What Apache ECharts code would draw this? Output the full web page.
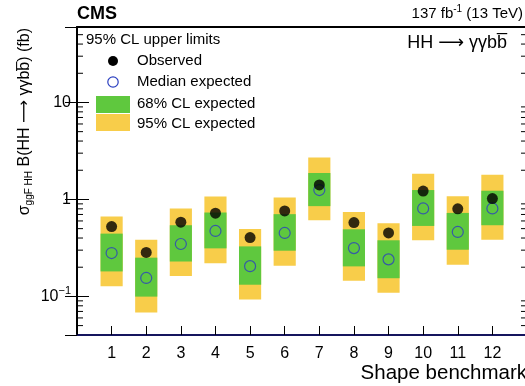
<!DOCTYPE html>
<html>
<head>
<meta charset="utf-8">
<script src="https://cdn.jsdelivr.net/npm/echarts@6/dist/echarts.min.js"></script>
<style>
html,body{margin:0;padding:0;background:#fff;}
#chart{width:525px;height:386px;}
</style>
</head>
<body>
<div id="chart"></div>
<script>
var benchmarks = [1,2,3,4,5,6,7,8,9,10,11,12];
var observed   = [0.525,0.284,0.582,0.721,0.404,0.762,1.41,0.578,0.451,1.22,0.80,1.02];
var expected   = [0.280,0.155,0.347,0.473,0.205,0.451,1.25,0.315,0.241,0.807,0.462,0.807];
var band68Low  = [0.181,0.0995,0.229,0.313,0.132,0.296,0.853,0.204,0.154,0.533,0.303,0.542];
var band68High = [0.444,0.251,0.542,0.733,0.328,0.705,1.874,0.492,0.379,1.25,0.726,1.23];
var band95Low  = [0.127,0.0684,0.162,0.220,0.0927,0.207,0.610,0.145,0.109,0.379,0.212,0.385];
var band95High = [0.667,0.385,0.807,1.074,0.496,1.049,2.70,0.744,0.568,1.84,1.08,1.80];
var minorTickValues = [0.05,0.06,0.07,0.08,0.09,0.2,0.3,0.4,0.5,0.6,0.7,0.8,0.9,2,3,4,5,6,7,8,9,20,30,40,50];
var xTickLabels = ['1','2','3','4','5','6','7','8','9','10','11','12'];

var FONT = "'Liberation Sans', Arial, Helvetica, 'DejaVu Sans', sans-serif";
var YELLOW = '#f8cd4a', GREEN = '#5fc83e', BLUE = '#2b3fc0';
var BOX_W = 0.64;

function bandData(lo, hi) {
  return benchmarks.map(function (b, i) { return [b, lo[i], hi[i]]; });
}
function boxRender(color) {
  return function (params, api) {
    var x = api.value(0);
    var p1 = api.coord([x - BOX_W / 2, api.value(2)]);
    var p2 = api.coord([x + BOX_W / 2, api.value(1)]);
    return {
      type: 'rect',
      shape: { x: p1[0], y: p1[1], width: p2[0] - p1[0], height: p2[1] - p1[1] },
      style: { fill: color }
    };
  };
}

var chart = echarts.init(document.getElementById('chart'), null, { renderer: 'canvas' });

var option = {
  animation: false,
  backgroundColor: '#fff',
  grid: { left: 77, top: 27, width: 450, height: 308, containLabel: false, outerBoundsMode: 'none' },
  xAxis: [{
    type: 'value', min: 0, max: 13, interval: 1,
    axisLine: { show: true, lineStyle: { color: '#15155e', width: 2 } },
    axisTick: { show: true, inside: true, length: 9, lineStyle: { color: '#000', width: 1 } },
    axisLabel: {
      fontFamily: FONT, fontSize: 16, color: '#000', margin: 11,
      formatter: function (v) { var i = benchmarks.indexOf(v); return i >= 0 ? xTickLabels[i] : ''; }
    },
    splitLine: { show: false }
  }, {
    type: 'value', min: 0, max: 13, position: 'top',
    axisLine: { show: true, lineStyle: { color: '#000', width: 2 } },
    axisTick: { show: false }, axisLabel: { show: false }, splitLine: { show: false }
  }],
  yAxis: [{
    type: 'log', min: 0.04, max: 60, logBase: 10,
    axisLine: { show: true, lineStyle: { color: '#000', width: 2 } },
    axisTick: { show: true, inside: true, length: 12, lineStyle: { color: '#000', width: 1 } },
    axisLabel: {
      fontFamily: FONT, fontSize: 16, color: '#000', margin: 6,
      showMinLabel: false, showMaxLabel: false,
      formatter: function (v) {
        if (Math.abs(v - 0.1) < 1e-9) return '10{sup|\u22121}';
        if (Math.abs(v - 1) < 1e-9) return '1';
        if (Math.abs(v - 10) < 1e-9) return '10';
        return '';
      },
      rich: { sup: { fontFamily: FONT, fontSize: 11, verticalAlign: 'top', padding: [0, 0, 10, 0] } }
    },
    splitLine: { show: false }
  }, {
    type: 'log', min: 0.04, max: 60, logBase: 10, position: 'right',
    axisLine: { show: false },
    axisTick: { show: true, inside: true, length: 12, lineStyle: { color: '#000', width: 1 } },
    axisLabel: { show: false }, splitLine: { show: false }
  }],
  series: [{
    name: '95% CL expected', type: 'custom', z: 1,
    renderItem: boxRender(YELLOW),
    encode: { x: 0, y: [1, 2] },
    data: bandData(band95Low, band95High)
  }, {
    name: '68% CL expected', type: 'custom', z: 2,
    renderItem: boxRender(GREEN),
    encode: { x: 0, y: [1, 2] },
    data: bandData(band68Low, band68High)
  }, {
    name: 'minor ticks', type: 'custom', z: 5, silent: true,
    renderItem: function (params, api) {
      var cs = params.coordSys;
      var y = api.coord([0, api.value(0)])[1];
      return {
        type: 'group',
        children: [
          { type: 'line', shape: { x1: cs.x, y1: y, x2: cs.x + 6, y2: y }, style: { stroke: '#000', lineWidth: 1 } },
          { type: 'line', shape: { x1: cs.x + cs.width - 6, y1: y, x2: cs.x + cs.width, y2: y }, style: { stroke: '#000', lineWidth: 1 } }
        ]
      };
    },
    encode: { y: 0 },
    data: minorTickValues.map(function (v) { return [v]; })
  }, {
    name: 'Median expected', type: 'scatter', z: 3,
    symbol: 'circle', symbolSize: 11,
    itemStyle: { color: 'rgba(0,0,0,0)', borderColor: BLUE, borderWidth: 1.2 },
    data: benchmarks.map(function (b, i) { return [b, expected[i]]; })
  }, {
    name: 'Observed', type: 'scatter', z: 4,
    symbol: 'circle', symbolSize: 11,
    itemStyle: { color: '#000' },
    data: benchmarks.map(function (b, i) { return [b, observed[i]]; })
  }],
  graphic: [
    { type: 'text', left: 77, top: 5, style: { text: 'CMS', fontFamily: FONT, fontWeight: 'bold', fontSize: 18, fill: '#000' } },
    { type: 'text', x: 523, y: 14, style: {
        text: '137 fb{sup|-1} (13 TeV)', fontFamily: FONT, fontSize: 15, fill: '#000', align: 'right', verticalAlign: 'middle',
        rich: { sup: { fontFamily: FONT, fontSize: 10, verticalAlign: 'top', padding: [0, 0, 9, 0] } } } },
    { type: 'text', x: 507, y: 43, style: { text: 'HH \u27f6 \u03b3\u03b3bb\u0305', fontFamily: FONT, fontSize: 18, fill: '#000', align: 'right', verticalAlign: 'middle' } },
    { type: 'text', x: 25, y: 28, rotation: Math.PI / 2, style: {
        text: '\u03c3{sub|ggF HH} B(HH \u27f6 \u03b3\u03b3bb\u0305) (fb)', fontFamily: FONT, fontSize: 16, fill: '#000', align: 'right', verticalAlign: 'middle',
        rich: { sub: { fontFamily: FONT, fontSize: 10, verticalAlign: 'bottom', padding: [8, 0, 0, 0] } } } },
    { type: 'text', x: 527, y: 373, style: { text: 'Shape benchmark', fontFamily: FONT, fontSize: 20.5, fill: '#000', align: 'right', verticalAlign: 'middle' } },
    { type: 'text', x: 86, y: 40, style: { text: '95% CL upper limits', fontFamily: FONT, fontSize: 15, fill: '#000', verticalAlign: 'middle' } },
    { type: 'circle', shape: { cx: 113, cy: 61, r: 5 }, style: { fill: '#000' } },
    { type: 'text', x: 137, y: 61, style: { text: 'Observed', fontFamily: FONT, fontSize: 15, fill: '#000', verticalAlign: 'middle' } },
    { type: 'circle', shape: { cx: 113, cy: 82, r: 5.2 }, style: { fill: 'none', stroke: BLUE, lineWidth: 1.2 } },
    { type: 'text', x: 137, y: 82, style: { text: 'Median expected', fontFamily: FONT, fontSize: 15, fill: '#000', verticalAlign: 'middle' } },
    { type: 'rect', shape: { x: 96, y: 96, width: 34, height: 17 }, style: { fill: GREEN } },
    { type: 'text', x: 137, y: 104, style: { text: '68% CL expected', fontFamily: FONT, fontSize: 15, fill: '#000', verticalAlign: 'middle' } },
    { type: 'rect', shape: { x: 96, y: 114, width: 34, height: 17 }, style: { fill: YELLOW } },
    { type: 'text', x: 137, y: 124, style: { text: '95% CL expected', fontFamily: FONT, fontSize: 15, fill: '#000', verticalAlign: 'middle' } }
  ]
};
chart.setOption(option);
</script>
</body>
</html>
